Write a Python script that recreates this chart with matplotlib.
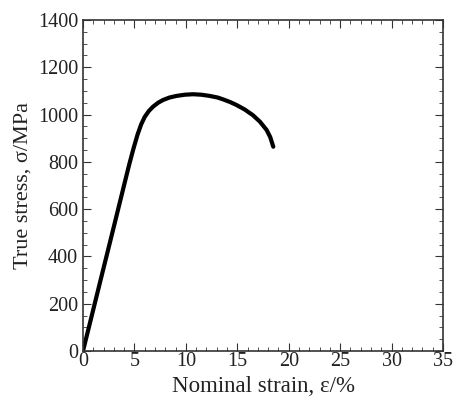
import matplotlib.pyplot as plt
from matplotlib.ticker import MultipleLocator

plt.rcParams['font.family'] = ['Liberation Serif', 'DejaVu Serif']

# strain (%) and true stress (MPa)
strain = [0.0, 0.9, 1.8, 2.6, 3.3, 4.1, 4.5, 4.9, 5.3, 5.65, 6.0, 6.4, 6.8, 7.3, 7.8, 8.4, 9.1,
          9.9, 10.7, 11.5, 12.3, 13.1, 13.7, 14.3, 14.9, 15.7, 16.5, 17.2, 17.85, 18.2, 18.5]
stress = [0, 158, 316, 456, 579, 720, 790, 855, 915, 958, 990, 1015, 1033, 1050, 1062, 1072, 1079,
          1084, 1086, 1084, 1079, 1072, 1063, 1053, 1041, 1022, 998, 970, 935, 905, 864]

fig = plt.figure(figsize=(4.53, 3.96), dpi=100)
ax = fig.add_axes([83/453, 45/396, 360/453, 331/396])

ax.plot(strain, stress, color='black', lw=3, solid_capstyle='round', solid_joinstyle='round')

ax.set_xlim(0, 35)
ax.set_ylim(0, 1400)
ax.xaxis.set_major_locator(MultipleLocator(5))
ax.xaxis.set_minor_locator(MultipleLocator(1))
ax.yaxis.set_major_locator(MultipleLocator(200))
ax.yaxis.set_minor_locator(MultipleLocator(50))
ax.tick_params(which='both', direction='in', top=True, right=True, labelsize=14.5,
               color='#333333', labelcolor='#222222')
ax.tick_params(axis='x', pad=1)
ax.tick_params(which='major', length=6)
ax.tick_params(which='minor', length=3)
for s in ax.spines.values():
    s.set_linewidth(1.2)
    s.set_color('#333333')

ax.set_xlabel('Nominal strain, ε/%', fontsize=16.5, labelpad=3, color='#222222')
ax.set_ylabel('True stress, σ/MPa', fontsize=16, labelpad=4, color='#222222')

fig.savefig('out.png', dpi=100)
